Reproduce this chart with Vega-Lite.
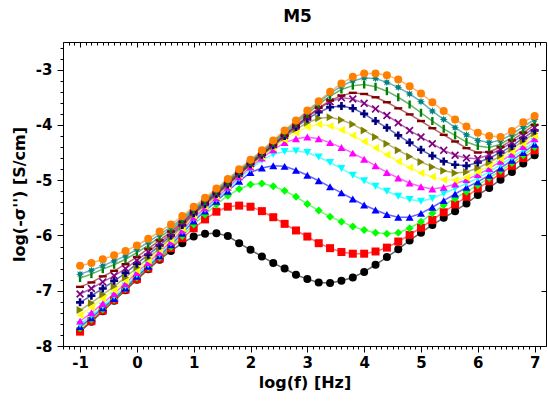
{
"$schema": "https://vega.github.io/schema/vega-lite/v6.json",
"width": 483, "height": 304,
"autosize": "none",
"padding": {"left": 63, "top": 42, "right": 2, "bottom": 58},
"background": "white",
"title": {"text": "M5", "font": "DejaVu Sans", "fontSize": 17, "fontWeight": "bold", "color": "#000", "offset": 16, "dx": -7},
"data": {"values": [
{"s":"black","x":-1,"y":-7.73},{"s":"black","x":-0.8,"y":-7.56},{"s":"black","x":-0.6,"y":-7.37},{"s":"black","x":-0.4,"y":-7.18},{"s":"black","x":-0.2,"y":-6.99},{"s":"black","x":0,"y":-6.80},{"s":"black","x":0.2,"y":-6.61},{"s":"black","x":0.4,"y":-6.44},{"s":"black","x":0.6,"y":-6.28},{"s":"black","x":0.8,"y":-6.14},{"s":"black","x":1,"y":-6.02},{"s":"black","x":1.2,"y":-5.97},{"s":"black","x":1.4,"y":-5.96},{"s":"black","x":1.6,"y":-6.01},{"s":"black","x":1.8,"y":-6.14},{"s":"black","x":2,"y":-6.26},{"s":"black","x":2.2,"y":-6.38},{"s":"black","x":2.4,"y":-6.50},{"s":"black","x":2.6,"y":-6.60},{"s":"black","x":2.8,"y":-6.71},{"s":"black","x":3,"y":-6.79},{"s":"black","x":3.2,"y":-6.85},{"s":"black","x":3.4,"y":-6.86},{"s":"black","x":3.6,"y":-6.82},{"s":"black","x":3.8,"y":-6.76},{"s":"black","x":4,"y":-6.66},{"s":"black","x":4.2,"y":-6.53},{"s":"black","x":4.4,"y":-6.39},{"s":"black","x":4.6,"y":-6.25},{"s":"black","x":4.8,"y":-6.09},{"s":"black","x":5,"y":-5.95},{"s":"black","x":5.2,"y":-5.81},{"s":"black","x":5.4,"y":-5.68},{"s":"black","x":5.6,"y":-5.56},{"s":"black","x":5.8,"y":-5.42},{"s":"black","x":6,"y":-5.27},{"s":"black","x":6.2,"y":-5.14},{"s":"black","x":6.4,"y":-4.99},{"s":"black","x":6.6,"y":-4.85},{"s":"black","x":6.8,"y":-4.70},{"s":"black","x":7,"y":-4.55},
{"s":"red","x":-1,"y":-7.74},{"s":"red","x":-0.8,"y":-7.55},{"s":"red","x":-0.6,"y":-7.36},{"s":"red","x":-0.4,"y":-7.17},{"s":"red","x":-0.2,"y":-6.98},{"s":"red","x":0,"y":-6.79},{"s":"red","x":0.2,"y":-6.60},{"s":"red","x":0.4,"y":-6.42},{"s":"red","x":0.6,"y":-6.23},{"s":"red","x":0.8,"y":-6.05},{"s":"red","x":1,"y":-5.87},{"s":"red","x":1.2,"y":-5.71},{"s":"red","x":1.4,"y":-5.57},{"s":"red","x":1.6,"y":-5.48},{"s":"red","x":1.8,"y":-5.46},{"s":"red","x":2,"y":-5.48},{"s":"red","x":2.2,"y":-5.56},{"s":"red","x":2.4,"y":-5.67},{"s":"red","x":2.6,"y":-5.79},{"s":"red","x":2.8,"y":-5.91},{"s":"red","x":3,"y":-6.02},{"s":"red","x":3.2,"y":-6.14},{"s":"red","x":3.4,"y":-6.23},{"s":"red","x":3.6,"y":-6.30},{"s":"red","x":3.8,"y":-6.33},{"s":"red","x":4,"y":-6.33},{"s":"red","x":4.2,"y":-6.29},{"s":"red","x":4.4,"y":-6.22},{"s":"red","x":4.6,"y":-6.11},{"s":"red","x":4.8,"y":-5.99},{"s":"red","x":5,"y":-5.86},{"s":"red","x":5.2,"y":-5.72},{"s":"red","x":5.4,"y":-5.58},{"s":"red","x":5.6,"y":-5.44},{"s":"red","x":5.8,"y":-5.30},{"s":"red","x":6,"y":-5.15},{"s":"red","x":6.2,"y":-5.02},{"s":"red","x":6.4,"y":-4.88},{"s":"red","x":6.6,"y":-4.74},{"s":"red","x":6.8,"y":-4.60},{"s":"red","x":7,"y":-4.46},
{"s":"green","x":-1,"y":-7.68},{"s":"green","x":-0.8,"y":-7.52},{"s":"green","x":-0.6,"y":-7.34},{"s":"green","x":-0.4,"y":-7.16},{"s":"green","x":-0.2,"y":-6.97},{"s":"green","x":0,"y":-6.76},{"s":"green","x":0.2,"y":-6.58},{"s":"green","x":0.4,"y":-6.40},{"s":"green","x":0.6,"y":-6.21},{"s":"green","x":0.8,"y":-6.01},{"s":"green","x":1,"y":-5.80},{"s":"green","x":1.2,"y":-5.62},{"s":"green","x":1.4,"y":-5.44},{"s":"green","x":1.6,"y":-5.28},{"s":"green","x":1.8,"y":-5.16},{"s":"green","x":2,"y":-5.08},{"s":"green","x":2.2,"y":-5.06},{"s":"green","x":2.4,"y":-5.11},{"s":"green","x":2.6,"y":-5.19},{"s":"green","x":2.8,"y":-5.30},{"s":"green","x":3,"y":-5.43},{"s":"green","x":3.2,"y":-5.55},{"s":"green","x":3.4,"y":-5.66},{"s":"green","x":3.6,"y":-5.75},{"s":"green","x":3.8,"y":-5.84},{"s":"green","x":4,"y":-5.90},{"s":"green","x":4.2,"y":-5.95},{"s":"green","x":4.4,"y":-5.97},{"s":"green","x":4.6,"y":-5.95},{"s":"green","x":4.8,"y":-5.87},{"s":"green","x":5,"y":-5.75},{"s":"green","x":5.2,"y":-5.60},{"s":"green","x":5.4,"y":-5.45},{"s":"green","x":5.6,"y":-5.33},{"s":"green","x":5.8,"y":-5.21},{"s":"green","x":6,"y":-5.09},{"s":"green","x":6.2,"y":-4.96},{"s":"green","x":6.4,"y":-4.83},{"s":"green","x":6.6,"y":-4.69},{"s":"green","x":6.8,"y":-4.55},{"s":"green","x":7,"y":-4.40},
{"s":"blue","x":-1,"y":-7.65},{"s":"blue","x":-0.8,"y":-7.49},{"s":"blue","x":-0.6,"y":-7.31},{"s":"blue","x":-0.4,"y":-7.14},{"s":"blue","x":-0.2,"y":-6.95},{"s":"blue","x":0,"y":-6.74},{"s":"blue","x":0.2,"y":-6.56},{"s":"blue","x":0.4,"y":-6.37},{"s":"blue","x":0.6,"y":-6.17},{"s":"blue","x":0.8,"y":-5.96},{"s":"blue","x":1,"y":-5.74},{"s":"blue","x":1.2,"y":-5.56},{"s":"blue","x":1.4,"y":-5.38},{"s":"blue","x":1.6,"y":-5.20},{"s":"blue","x":1.8,"y":-5.02},{"s":"blue","x":2,"y":-4.86},{"s":"blue","x":2.2,"y":-4.78},{"s":"blue","x":2.4,"y":-4.74},{"s":"blue","x":2.6,"y":-4.75},{"s":"blue","x":2.8,"y":-4.82},{"s":"blue","x":3,"y":-4.91},{"s":"blue","x":3.2,"y":-5.01},{"s":"blue","x":3.4,"y":-5.12},{"s":"blue","x":3.6,"y":-5.23},{"s":"blue","x":3.8,"y":-5.34},{"s":"blue","x":4,"y":-5.45},{"s":"blue","x":4.2,"y":-5.54},{"s":"blue","x":4.4,"y":-5.62},{"s":"blue","x":4.6,"y":-5.67},{"s":"blue","x":4.8,"y":-5.67},{"s":"blue","x":5,"y":-5.60},{"s":"blue","x":5.2,"y":-5.49},{"s":"blue","x":5.4,"y":-5.37},{"s":"blue","x":5.6,"y":-5.25},{"s":"blue","x":5.8,"y":-5.13},{"s":"blue","x":6,"y":-5.03},{"s":"blue","x":6.2,"y":-4.91},{"s":"blue","x":6.4,"y":-4.78},{"s":"blue","x":6.6,"y":-4.64},{"s":"blue","x":6.8,"y":-4.50},{"s":"blue","x":7,"y":-4.35},
{"s":"cyan","x":-1,"y":-7.61},{"s":"cyan","x":-0.8,"y":-7.45},{"s":"cyan","x":-0.6,"y":-7.28},{"s":"cyan","x":-0.4,"y":-7.10},{"s":"cyan","x":-0.2,"y":-6.92},{"s":"cyan","x":0,"y":-6.71},{"s":"cyan","x":0.2,"y":-6.53},{"s":"cyan","x":0.4,"y":-6.34},{"s":"cyan","x":0.6,"y":-6.14},{"s":"cyan","x":0.8,"y":-5.93},{"s":"cyan","x":1,"y":-5.70},{"s":"cyan","x":1.2,"y":-5.53},{"s":"cyan","x":1.4,"y":-5.35},{"s":"cyan","x":1.6,"y":-5.16},{"s":"cyan","x":1.8,"y":-4.97},{"s":"cyan","x":2,"y":-4.80},{"s":"cyan","x":2.2,"y":-4.64},{"s":"cyan","x":2.4,"y":-4.53},{"s":"cyan","x":2.6,"y":-4.48},{"s":"cyan","x":2.8,"y":-4.47},{"s":"cyan","x":3,"y":-4.50},{"s":"cyan","x":3.2,"y":-4.58},{"s":"cyan","x":3.4,"y":-4.68},{"s":"cyan","x":3.6,"y":-4.79},{"s":"cyan","x":3.8,"y":-4.91},{"s":"cyan","x":4,"y":-5.01},{"s":"cyan","x":4.2,"y":-5.11},{"s":"cyan","x":4.4,"y":-5.20},{"s":"cyan","x":4.6,"y":-5.29},{"s":"cyan","x":4.8,"y":-5.35},{"s":"cyan","x":5,"y":-5.38},{"s":"cyan","x":5.2,"y":-5.33},{"s":"cyan","x":5.4,"y":-5.24},{"s":"cyan","x":5.6,"y":-5.15},{"s":"cyan","x":5.8,"y":-5.06},{"s":"cyan","x":6,"y":-4.96},{"s":"cyan","x":6.2,"y":-4.85},{"s":"cyan","x":6.4,"y":-4.72},{"s":"cyan","x":6.6,"y":-4.59},{"s":"cyan","x":6.8,"y":-4.45},{"s":"cyan","x":7,"y":-4.30},
{"s":"magenta","x":-1,"y":-7.55},{"s":"magenta","x":-0.8,"y":-7.40},{"s":"magenta","x":-0.6,"y":-7.23},{"s":"magenta","x":-0.4,"y":-7.05},{"s":"magenta","x":-0.2,"y":-6.87},{"s":"magenta","x":0,"y":-6.67},{"s":"magenta","x":0.2,"y":-6.49},{"s":"magenta","x":0.4,"y":-6.30},{"s":"magenta","x":0.6,"y":-6.11},{"s":"magenta","x":0.8,"y":-5.90},{"s":"magenta","x":1,"y":-5.67},{"s":"magenta","x":1.2,"y":-5.50},{"s":"magenta","x":1.4,"y":-5.32},{"s":"magenta","x":1.6,"y":-5.13},{"s":"magenta","x":1.8,"y":-4.94},{"s":"magenta","x":2,"y":-4.76},{"s":"magenta","x":2.2,"y":-4.60},{"s":"magenta","x":2.4,"y":-4.45},{"s":"magenta","x":2.6,"y":-4.32},{"s":"magenta","x":2.8,"y":-4.25},{"s":"magenta","x":3,"y":-4.22},{"s":"magenta","x":3.2,"y":-4.25},{"s":"magenta","x":3.4,"y":-4.32},{"s":"magenta","x":3.6,"y":-4.41},{"s":"magenta","x":3.8,"y":-4.51},{"s":"magenta","x":4,"y":-4.62},{"s":"magenta","x":4.2,"y":-4.74},{"s":"magenta","x":4.4,"y":-4.86},{"s":"magenta","x":4.6,"y":-4.96},{"s":"magenta","x":4.8,"y":-5.05},{"s":"magenta","x":5,"y":-5.12},{"s":"magenta","x":5.2,"y":-5.16},{"s":"magenta","x":5.4,"y":-5.13},{"s":"magenta","x":5.6,"y":-5.07},{"s":"magenta","x":5.8,"y":-4.99},{"s":"magenta","x":6,"y":-4.90},{"s":"magenta","x":6.2,"y":-4.79},{"s":"magenta","x":6.4,"y":-4.66},{"s":"magenta","x":6.6,"y":-4.53},{"s":"magenta","x":6.8,"y":-4.39},{"s":"magenta","x":7,"y":-4.25},
{"s":"yellow","x":-1,"y":-7.44},{"s":"yellow","x":-0.8,"y":-7.30},{"s":"yellow","x":-0.6,"y":-7.14},{"s":"yellow","x":-0.4,"y":-6.99},{"s":"yellow","x":-0.2,"y":-6.82},{"s":"yellow","x":0,"y":-6.63},{"s":"yellow","x":0.2,"y":-6.45},{"s":"yellow","x":0.4,"y":-6.26},{"s":"yellow","x":0.6,"y":-6.08},{"s":"yellow","x":0.8,"y":-5.87},{"s":"yellow","x":1,"y":-5.64},{"s":"yellow","x":1.2,"y":-5.47},{"s":"yellow","x":1.4,"y":-5.29},{"s":"yellow","x":1.6,"y":-5.10},{"s":"yellow","x":1.8,"y":-4.91},{"s":"yellow","x":2,"y":-4.73},{"s":"yellow","x":2.2,"y":-4.57},{"s":"yellow","x":2.4,"y":-4.41},{"s":"yellow","x":2.6,"y":-4.27},{"s":"yellow","x":2.8,"y":-4.14},{"s":"yellow","x":3,"y":-4.04},{"s":"yellow","x":3.2,"y":-3.99},{"s":"yellow","x":3.4,"y":-4.02},{"s":"yellow","x":3.6,"y":-4.09},{"s":"yellow","x":3.8,"y":-4.19},{"s":"yellow","x":4,"y":-4.30},{"s":"yellow","x":4.2,"y":-4.42},{"s":"yellow","x":4.4,"y":-4.54},{"s":"yellow","x":4.6,"y":-4.66},{"s":"yellow","x":4.8,"y":-4.77},{"s":"yellow","x":5,"y":-4.87},{"s":"yellow","x":5.2,"y":-4.94},{"s":"yellow","x":5.4,"y":-4.99},{"s":"yellow","x":5.6,"y":-5.00},{"s":"yellow","x":5.8,"y":-4.95},{"s":"yellow","x":6,"y":-4.85},{"s":"yellow","x":6.2,"y":-4.74},{"s":"yellow","x":6.4,"y":-4.61},{"s":"yellow","x":6.6,"y":-4.48},{"s":"yellow","x":6.8,"y":-4.34},{"s":"yellow","x":7,"y":-4.20},
{"s":"olive","x":-1,"y":-7.35},{"s":"olive","x":-0.8,"y":-7.22},{"s":"olive","x":-0.6,"y":-7.07},{"s":"olive","x":-0.4,"y":-6.92},{"s":"olive","x":-0.2,"y":-6.76},{"s":"olive","x":0,"y":-6.58},{"s":"olive","x":0.2,"y":-6.41},{"s":"olive","x":0.4,"y":-6.23},{"s":"olive","x":0.6,"y":-6.04},{"s":"olive","x":0.8,"y":-5.84},{"s":"olive","x":1,"y":-5.62},{"s":"olive","x":1.2,"y":-5.45},{"s":"olive","x":1.4,"y":-5.27},{"s":"olive","x":1.6,"y":-5.09},{"s":"olive","x":1.8,"y":-4.90},{"s":"olive","x":2,"y":-4.72},{"s":"olive","x":2.2,"y":-4.56},{"s":"olive","x":2.4,"y":-4.39},{"s":"olive","x":2.6,"y":-4.23},{"s":"olive","x":2.8,"y":-4.08},{"s":"olive","x":3,"y":-3.96},{"s":"olive","x":3.2,"y":-3.88},{"s":"olive","x":3.4,"y":-3.86},{"s":"olive","x":3.6,"y":-3.91},{"s":"olive","x":3.8,"y":-3.99},{"s":"olive","x":4,"y":-4.10},{"s":"olive","x":4.2,"y":-4.22},{"s":"olive","x":4.4,"y":-4.34},{"s":"olive","x":4.6,"y":-4.46},{"s":"olive","x":4.8,"y":-4.57},{"s":"olive","x":5,"y":-4.67},{"s":"olive","x":5.2,"y":-4.76},{"s":"olive","x":5.4,"y":-4.83},{"s":"olive","x":5.6,"y":-4.87},{"s":"olive","x":5.8,"y":-4.85},{"s":"olive","x":6,"y":-4.78},{"s":"olive","x":6.2,"y":-4.68},{"s":"olive","x":6.4,"y":-4.56},{"s":"olive","x":6.6,"y":-4.43},{"s":"olive","x":6.8,"y":-4.29},{"s":"olive","x":7,"y":-4.15},
{"s":"navy","x":-1,"y":-7.21},{"s":"navy","x":-0.8,"y":-7.09},{"s":"navy","x":-0.6,"y":-6.96},{"s":"navy","x":-0.4,"y":-6.82},{"s":"navy","x":-0.2,"y":-6.68},{"s":"navy","x":0,"y":-6.51},{"s":"navy","x":0.2,"y":-6.35},{"s":"navy","x":0.4,"y":-6.18},{"s":"navy","x":0.6,"y":-6.00},{"s":"navy","x":0.8,"y":-5.81},{"s":"navy","x":1,"y":-5.60},{"s":"navy","x":1.2,"y":-5.43},{"s":"navy","x":1.4,"y":-5.25},{"s":"navy","x":1.6,"y":-5.08},{"s":"navy","x":1.8,"y":-4.89},{"s":"navy","x":2,"y":-4.71},{"s":"navy","x":2.2,"y":-4.54},{"s":"navy","x":2.4,"y":-4.37},{"s":"navy","x":2.6,"y":-4.20},{"s":"navy","x":2.8,"y":-4.04},{"s":"navy","x":3,"y":-3.89},{"s":"navy","x":3.2,"y":-3.77},{"s":"navy","x":3.4,"y":-3.68},{"s":"navy","x":3.6,"y":-3.66},{"s":"navy","x":3.8,"y":-3.70},{"s":"navy","x":4,"y":-3.80},{"s":"navy","x":4.2,"y":-3.93},{"s":"navy","x":4.4,"y":-4.05},{"s":"navy","x":4.6,"y":-4.19},{"s":"navy","x":4.8,"y":-4.32},{"s":"navy","x":5,"y":-4.45},{"s":"navy","x":5.2,"y":-4.56},{"s":"navy","x":5.4,"y":-4.66},{"s":"navy","x":5.6,"y":-4.72},{"s":"navy","x":5.8,"y":-4.74},{"s":"navy","x":6,"y":-4.68},{"s":"navy","x":6.2,"y":-4.60},{"s":"navy","x":6.4,"y":-4.50},{"s":"navy","x":6.6,"y":-4.38},{"s":"navy","x":6.8,"y":-4.24},{"s":"navy","x":7,"y":-4.10},
{"s":"purple","x":-1,"y":-7.06},{"s":"purple","x":-0.8,"y":-6.96},{"s":"purple","x":-0.6,"y":-6.84},{"s":"purple","x":-0.4,"y":-6.73},{"s":"purple","x":-0.2,"y":-6.60},{"s":"purple","x":0,"y":-6.45},{"s":"purple","x":0.2,"y":-6.30},{"s":"purple","x":0.4,"y":-6.13},{"s":"purple","x":0.6,"y":-5.97},{"s":"purple","x":0.8,"y":-5.78},{"s":"purple","x":1,"y":-5.58},{"s":"purple","x":1.2,"y":-5.41},{"s":"purple","x":1.4,"y":-5.24},{"s":"purple","x":1.6,"y":-5.06},{"s":"purple","x":1.8,"y":-4.88},{"s":"purple","x":2,"y":-4.70},{"s":"purple","x":2.2,"y":-4.53},{"s":"purple","x":2.4,"y":-4.36},{"s":"purple","x":2.6,"y":-4.19},{"s":"purple","x":2.8,"y":-4.02},{"s":"purple","x":3,"y":-3.86},{"s":"purple","x":3.2,"y":-3.71},{"s":"purple","x":3.4,"y":-3.58},{"s":"purple","x":3.6,"y":-3.51},{"s":"purple","x":3.8,"y":-3.53},{"s":"purple","x":4,"y":-3.61},{"s":"purple","x":4.2,"y":-3.71},{"s":"purple","x":4.4,"y":-3.83},{"s":"purple","x":4.6,"y":-3.96},{"s":"purple","x":4.8,"y":-4.10},{"s":"purple","x":5,"y":-4.22},{"s":"purple","x":5.2,"y":-4.34},{"s":"purple","x":5.4,"y":-4.46},{"s":"purple","x":5.6,"y":-4.55},{"s":"purple","x":5.8,"y":-4.60},{"s":"purple","x":6,"y":-4.61},{"s":"purple","x":6.2,"y":-4.54},{"s":"purple","x":6.4,"y":-4.44},{"s":"purple","x":6.6,"y":-4.32},{"s":"purple","x":6.8,"y":-4.19},{"s":"purple","x":7,"y":-4.05},
{"s":"maroon","x":-1,"y":-6.93},{"s":"maroon","x":-0.8,"y":-6.85},{"s":"maroon","x":-0.6,"y":-6.74},{"s":"maroon","x":-0.4,"y":-6.64},{"s":"maroon","x":-0.2,"y":-6.52},{"s":"maroon","x":0,"y":-6.39},{"s":"maroon","x":0.2,"y":-6.24},{"s":"maroon","x":0.4,"y":-6.09},{"s":"maroon","x":0.6,"y":-5.93},{"s":"maroon","x":0.8,"y":-5.76},{"s":"maroon","x":1,"y":-5.56},{"s":"maroon","x":1.2,"y":-5.39},{"s":"maroon","x":1.4,"y":-5.22},{"s":"maroon","x":1.6,"y":-5.04},{"s":"maroon","x":1.8,"y":-4.86},{"s":"maroon","x":2,"y":-4.68},{"s":"maroon","x":2.2,"y":-4.52},{"s":"maroon","x":2.4,"y":-4.35},{"s":"maroon","x":2.6,"y":-4.18},{"s":"maroon","x":2.8,"y":-4.01},{"s":"maroon","x":3,"y":-3.85},{"s":"maroon","x":3.2,"y":-3.69},{"s":"maroon","x":3.4,"y":-3.56},{"s":"maroon","x":3.6,"y":-3.47},{"s":"maroon","x":3.8,"y":-3.42},{"s":"maroon","x":4,"y":-3.44},{"s":"maroon","x":4.2,"y":-3.50},{"s":"maroon","x":4.4,"y":-3.59},{"s":"maroon","x":4.6,"y":-3.70},{"s":"maroon","x":4.8,"y":-3.81},{"s":"maroon","x":5,"y":-3.93},{"s":"maroon","x":5.2,"y":-4.06},{"s":"maroon","x":5.4,"y":-4.18},{"s":"maroon","x":5.6,"y":-4.30},{"s":"maroon","x":5.8,"y":-4.42},{"s":"maroon","x":6,"y":-4.50},{"s":"maroon","x":6.2,"y":-4.49},{"s":"maroon","x":6.4,"y":-4.40},{"s":"maroon","x":6.6,"y":-4.28},{"s":"maroon","x":6.8,"y":-4.14},{"s":"maroon","x":7,"y":-4.00},
{"s":"darkgreen","x":-1,"y":-6.77},{"s":"darkgreen","x":-0.8,"y":-6.70},{"s":"darkgreen","x":-0.6,"y":-6.61},{"s":"darkgreen","x":-0.4,"y":-6.53},{"s":"darkgreen","x":-0.2,"y":-6.43},{"s":"darkgreen","x":0,"y":-6.31},{"s":"darkgreen","x":0.2,"y":-6.18},{"s":"darkgreen","x":0.4,"y":-6.03},{"s":"darkgreen","x":0.6,"y":-5.89},{"s":"darkgreen","x":0.8,"y":-5.72},{"s":"darkgreen","x":1,"y":-5.54},{"s":"darkgreen","x":1.2,"y":-5.38},{"s":"darkgreen","x":1.4,"y":-5.20},{"s":"darkgreen","x":1.6,"y":-5.03},{"s":"darkgreen","x":1.8,"y":-4.84},{"s":"darkgreen","x":2,"y":-4.67},{"s":"darkgreen","x":2.2,"y":-4.50},{"s":"darkgreen","x":2.4,"y":-4.32},{"s":"darkgreen","x":2.6,"y":-4.15},{"s":"darkgreen","x":2.8,"y":-3.97},{"s":"darkgreen","x":3,"y":-3.80},{"s":"darkgreen","x":3.2,"y":-3.63},{"s":"darkgreen","x":3.4,"y":-3.48},{"s":"darkgreen","x":3.6,"y":-3.36},{"s":"darkgreen","x":3.8,"y":-3.29},{"s":"darkgreen","x":4,"y":-3.27},{"s":"darkgreen","x":4.2,"y":-3.31},{"s":"darkgreen","x":4.4,"y":-3.39},{"s":"darkgreen","x":4.6,"y":-3.50},{"s":"darkgreen","x":4.8,"y":-3.63},{"s":"darkgreen","x":5,"y":-3.78},{"s":"darkgreen","x":5.2,"y":-3.93},{"s":"darkgreen","x":5.4,"y":-4.07},{"s":"darkgreen","x":5.6,"y":-4.19},{"s":"darkgreen","x":5.8,"y":-4.31},{"s":"darkgreen","x":6,"y":-4.38},{"s":"darkgreen","x":6.2,"y":-4.41},{"s":"darkgreen","x":6.4,"y":-4.35},{"s":"darkgreen","x":6.6,"y":-4.23},{"s":"darkgreen","x":6.8,"y":-4.09},{"s":"darkgreen","x":7,"y":-3.95},
{"s":"teal","x":-1,"y":-6.70},{"s":"teal","x":-0.8,"y":-6.63},{"s":"teal","x":-0.6,"y":-6.55},{"s":"teal","x":-0.4,"y":-6.46},{"s":"teal","x":-0.2,"y":-6.37},{"s":"teal","x":0,"y":-6.25},{"s":"teal","x":0.2,"y":-6.12},{"s":"teal","x":0.4,"y":-5.98},{"s":"teal","x":0.6,"y":-5.85},{"s":"teal","x":0.8,"y":-5.69},{"s":"teal","x":1,"y":-5.51},{"s":"teal","x":1.2,"y":-5.35},{"s":"teal","x":1.4,"y":-5.18},{"s":"teal","x":1.6,"y":-5.00},{"s":"teal","x":1.8,"y":-4.82},{"s":"teal","x":2,"y":-4.65},{"s":"teal","x":2.2,"y":-4.48},{"s":"teal","x":2.4,"y":-4.30},{"s":"teal","x":2.6,"y":-4.12},{"s":"teal","x":2.8,"y":-3.94},{"s":"teal","x":3,"y":-3.76},{"s":"teal","x":3.2,"y":-3.59},{"s":"teal","x":3.4,"y":-3.43},{"s":"teal","x":3.6,"y":-3.30},{"s":"teal","x":3.8,"y":-3.20},{"s":"teal","x":4,"y":-3.15},{"s":"teal","x":4.2,"y":-3.16},{"s":"teal","x":4.4,"y":-3.23},{"s":"teal","x":4.6,"y":-3.32},{"s":"teal","x":4.8,"y":-3.44},{"s":"teal","x":5,"y":-3.58},{"s":"teal","x":5.2,"y":-3.75},{"s":"teal","x":5.4,"y":-3.90},{"s":"teal","x":5.6,"y":-4.05},{"s":"teal","x":5.8,"y":-4.18},{"s":"teal","x":6,"y":-4.28},{"s":"teal","x":6.2,"y":-4.32},{"s":"teal","x":6.4,"y":-4.28},{"s":"teal","x":6.6,"y":-4.17},{"s":"teal","x":6.8,"y":-4.03},{"s":"teal","x":7,"y":-3.90},
{"s":"orange","x":-1,"y":-6.55},{"s":"orange","x":-0.8,"y":-6.50},{"s":"orange","x":-0.6,"y":-6.43},{"s":"orange","x":-0.4,"y":-6.36},{"s":"orange","x":-0.2,"y":-6.28},{"s":"orange","x":0,"y":-6.18},{"s":"orange","x":0.2,"y":-6.06},{"s":"orange","x":0.4,"y":-5.93},{"s":"orange","x":0.6,"y":-5.80},{"s":"orange","x":0.8,"y":-5.65},{"s":"orange","x":1,"y":-5.48},{"s":"orange","x":1.2,"y":-5.32},{"s":"orange","x":1.4,"y":-5.15},{"s":"orange","x":1.6,"y":-4.98},{"s":"orange","x":1.8,"y":-4.80},{"s":"orange","x":2,"y":-4.63},{"s":"orange","x":2.2,"y":-4.46},{"s":"orange","x":2.4,"y":-4.28},{"s":"orange","x":2.6,"y":-4.10},{"s":"orange","x":2.8,"y":-3.92},{"s":"orange","x":3,"y":-3.74},{"s":"orange","x":3.2,"y":-3.57},{"s":"orange","x":3.4,"y":-3.40},{"s":"orange","x":3.6,"y":-3.25},{"s":"orange","x":3.8,"y":-3.13},{"s":"orange","x":4,"y":-3.07},{"s":"orange","x":4.2,"y":-3.07},{"s":"orange","x":4.4,"y":-3.10},{"s":"orange","x":4.6,"y":-3.18},{"s":"orange","x":4.8,"y":-3.30},{"s":"orange","x":5,"y":-3.43},{"s":"orange","x":5.2,"y":-3.59},{"s":"orange","x":5.4,"y":-3.75},{"s":"orange","x":5.6,"y":-3.90},{"s":"orange","x":5.8,"y":-4.03},{"s":"orange","x":6,"y":-4.14},{"s":"orange","x":6.2,"y":-4.20},{"s":"orange","x":6.4,"y":-4.22},{"s":"orange","x":6.6,"y":-4.11},{"s":"orange","x":6.8,"y":-3.95},{"s":"orange","x":7,"y":-3.84}
]},
"layer": [
{
"mark": {"type": "line", "strokeWidth": 1.5, "opacity": 0.6},
"encoding": {
"x": {"field": "x", "type": "quantitative", "scale": {"domain": [-1.3, 7.2], "nice": false, "zero": false},
"axis": {"orient": "bottom", "values": [-1,0,1,2,3,4,5,6,7], "title": "log(f) [Hz]", "tickSize": 6, "labelPadding": 3, "titlePadding": 4, "labelExpr": "'' + datum.value"}},
"y": {"field": "y", "type": "quantitative", "scale": {"domain": [-8, -2.5], "nice": false, "zero": false},
"axis": {"orient": "left", "values": [-8,-7,-6,-5,-4,-3], "title": "log(-σ'') [S/cm]", "tickSize": 6, "labelPadding": 5, "titlePadding": 8, "labelExpr": "'' + datum.value"}},
"color": {"field": "s", "type": "nominal", "legend": null,
"scale": {"domain": ["black","red","green","blue","cyan","magenta","yellow","olive","navy","purple","maroon","darkgreen","teal","orange"],
"range": ["#000000","#FF0000","#00FF00","#0000FF","#00FFFF","#FF00FF","#FFFF00","#808000","#000080","#800080","#800000","#008000","#008080","#FF8000"]}}
}
},
{
"mark": {"type": "point", "filled": true, "size": 64, "opacity": 1},
"encoding": {
"x": {"field": "x", "type": "quantitative", "axis": null},
"y": {"field": "y", "type": "quantitative", "axis": null},
"color": {"field": "s", "type": "nominal", "legend": null},
"shape": {"field": "s", "type": "nominal", "legend": null,
"scale": {"domain": ["black","red","green","blue","cyan","magenta","yellow","olive","navy","purple","maroon","darkgreen","teal","orange"],
"range": ["circle","square","diamond","triangle-up","triangle-down","triangle-up","triangle-left","triangle-right",
"M-0.33,-1H0.33V-0.33H1V0.33H0.33V1H-0.33V0.33H-1V-0.33H-0.33Z",
"M-1,-0.7L-0.7,-1L0,-0.3L0.7,-1L1,-0.7L0.3,0L1,0.7L0.7,1L0,0.3L-0.7,1L-1,0.7L-0.3,0Z",
"M-1,-0.3H1V0.3H-1Z",
"M-0.3,-1H0.3V1H-0.3Z",
"M0,-1L0.19,-0.46L0.71,-0.71L0.46,-0.19L1,0L0.46,0.19L0.71,0.71L0.19,0.46L0,1L-0.19,0.46L-0.71,0.71L-0.46,0.19L-1,0L-0.46,-0.19L-0.71,-0.71L-0.19,-0.46Z",
"circle"]}}
}
},
{
"mark": {"type": "point", "opacity": 0},
"encoding": {
"x": {"field": "x", "type": "quantitative", "axis": {"orient": "bottom", "values": [-1.3,-1.2,-1.1,-1,-0.9,-0.8,-0.7,-0.6,-0.5,-0.4,-0.3,-0.2,-0.1,0,0.1,0.2,0.3,0.4,0.5,0.6,0.7,0.8,0.9,1,1.1,1.2,1.3,1.4,1.5,1.6,1.7,1.8,1.9,2,2.1,2.2,2.3,2.4,2.5,2.6,2.7,2.8,2.9,3,3.1,3.2,3.3,3.4,3.5,3.6,3.7,3.8,3.9,4,4.1,4.2,4.3,4.4,4.5,4.6,4.7,4.8,4.9,5,5.1,5.2,5.3,5.4,5.5,5.6,5.7,5.8,5.9,6,6.1,6.2,6.3,6.4,6.5,6.6,6.7,6.8,6.9,7,7.1], "tickSize": 3, "labels": false, "title": null}},
"y": {"field": "y", "type": "quantitative", "axis": {"orient": "left", "values": [-8,-7.8,-7.6,-7.4,-7.2,-7,-6.8,-6.6,-6.4,-6.2,-6,-5.8,-5.6,-5.4,-5.2,-5,-4.8,-4.6,-4.4,-4.2,-4,-3.8,-3.6,-3.4,-3.2,-3,-2.8,-2.6], "tickSize": 3, "labels": false, "title": null}}
}
},
{
"mark": {"type": "point", "opacity": 0},
"encoding": {
"x": {"field": "x", "type": "quantitative", "axis": {"orient": "top", "values": [-1,0,1,2,3,4,5,6,7], "tickSize": -5, "labels": false, "title": null}},
"y": {"field": "y", "type": "quantitative", "axis": {"orient": "right", "values": [-8,-7,-6,-5,-4,-3], "tickSize": -5, "labels": false, "title": null}}
}
},
{
"mark": {"type": "point", "opacity": 0},
"encoding": {
"x": {"field": "x", "type": "quantitative", "axis": {"orient": "top", "values": [-1.3,-1.2,-1.1,-1,-0.9,-0.8,-0.7,-0.6,-0.5,-0.4,-0.3,-0.2,-0.1,0,0.1,0.2,0.3,0.4,0.5,0.6,0.7,0.8,0.9,1,1.1,1.2,1.3,1.4,1.5,1.6,1.7,1.8,1.9,2,2.1,2.2,2.3,2.4,2.5,2.6,2.7,2.8,2.9,3,3.1,3.2,3.3,3.4,3.5,3.6,3.7,3.8,3.9,4,4.1,4.2,4.3,4.4,4.5,4.6,4.7,4.8,4.9,5,5.1,5.2,5.3,5.4,5.5,5.6,5.7,5.8,5.9,6,6.1,6.2,6.3,6.4,6.5,6.6,6.7,6.8,6.9,7,7.1], "tickSize": -3, "labels": false, "title": null}},
"y": {"field": "y", "type": "quantitative", "axis": null}
}
}
],
"resolve": {"axis": {"x": "independent", "y": "independent"}},
"config": {
"view": {"stroke": "#000000", "strokeWidth": 1},
"axis": {"labelFont": "DejaVu Sans", "labelFontSize": 15, "labelFontWeight": "bold", "labelColor": "#000000",
"titleFont": "DejaVu Sans", "titleFontSize": 16, "titleFontWeight": "bold", "titleColor": "#000000",
"tickColor": "#000000", "tickWidth": 1, "grid": false, "domain": false}
}
}
